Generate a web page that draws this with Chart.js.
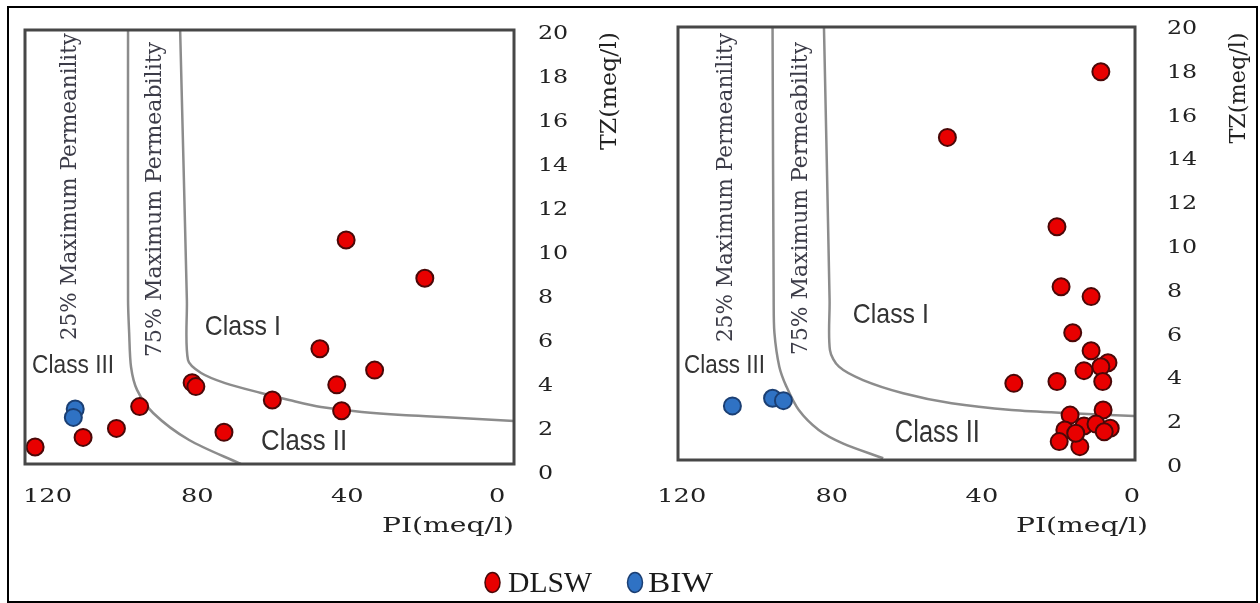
<!DOCTYPE html>
<html><head><meta charset="utf-8">
<script src="https://cdn.jsdelivr.net/npm/chart.js@4.4.1/dist/chart.umd.min.js"></script>
<style>
html,body{margin:0;padding:0;background:#fff;}
#wrap{position:relative;width:1260px;height:603px;overflow:hidden;background:#fff;}
.layer{position:absolute;left:0;top:0;width:1260px;height:603px;}
</style></head><body>
<div id="wrap">
<div class="layer"><canvas id="leftChart"></canvas></div>
<div class="layer"><canvas id="rightChart"></canvas></div>
</div>
<script>
// ---------- data ----------
const seriesNames = ['DLSW', 'BIW'];
const piTicks = [120, 80, 40, 0];
const tzTicks = [0, 2, 4, 6, 8, 10, 12, 14, 16, 18, 20];
const axisTitles = ['PI(meq/l)', 'TZ(meq/l)'];
const curveNames = ['25% Maximum Permeanility', '75% Maximum Permeability'];
const classNames = ['Class I', 'Class II', 'Class III'];

// left panel
const leftDlswPI = [123.3, 110.5, 101.6, 95.4, 81.4, 80.4, 72.9, 60.0, 47.3, 42.8, 41.5, 32.7, 40.3, 19.3];
const leftDlswTZ = [1.13, 1.57, 1.98, 2.97, 4.06, 3.88, 1.80, 3.27, 5.60, 3.96, 2.78, 4.63, 10.55, 8.81];
const leftBiwPI = [112.6, 113.1];
const leftBiwTZ = [2.86, 2.48];
const leftC25PI = [98.5, 98.5, 98.2, 97.7, 96.1, 91.8, 82.2, 68.4];
const leftC25TZ = [20.1, 7.82, 6.32, 4.77, 3.73, 2.68, 1.45, 0.36];
const leftC75PI = [84.6, 82.8, 82.5, 79.0, 72.6, 63.0, 55.5, 47.0, 36.1, 25.4, 14.7, -4.5];
const leftC75TZ = [20.1, 7.82, 5.09, 4.50, 4.04, 3.59, 3.27, 2.95, 2.73, 2.59, 2.50, 2.32];

// right panel
const rightDlswPI = [8.3, 49.2, 20.0, 18.9, 10.9, 15.8, 10.9, 6.4, 8.3, 12.8, 7.8, 31.5, 20.0,
                     16.5, 7.7, 17.9, 12.8, 9.6, 5.8, 7.4, 19.4, 13.9, 15.0];
const rightDlswTZ = [17.96, 14.96, 10.88, 8.14, 7.69, 6.04, 5.22, 4.67, 4.49, 4.31, 3.81, 3.73, 3.81,
                     2.28, 2.51, 1.60, 1.78, 1.87, 1.68, 1.52, 1.07, 0.84, 1.45];
const rightBiwPI = [106.5, 95.8, 92.9];
const rightBiwTZ = [2.70, 3.05, 2.94];
const rightC25PI = [95.8, 95.5, 95.3, 94.0, 92.1, 88.8, 83.5, 77.1, 66.3];
const rightC25TZ = [20.0, 7.54, 6.03, 4.49, 3.58, 2.51, 1.60, 0.99, 0.31];
const rightC75PI = [82.1, 80.6, 80.5, 78.1, 71.7, 61.0, 48.1, 32.1, 16.0, -0.6];
const rightC75TZ = [20.0, 7.54, 5.25, 4.49, 3.88, 3.28, 2.82, 2.51, 2.36, 2.24];

// ---------- helpers ----------
function pts(xs, ys) { return xs.map((x, i) => ({ x: x, y: ys[i] })); }

function drawText(ctx, text, x, y, o) {
  ctx.save();
  ctx.font = o.font;
  ctx.fillStyle = o.color || '#222';
  ctx.textBaseline = o.baseline || 'alphabetic';
  ctx.textAlign = o.align || 'left';
  let sx = o.sx || 1;
  if (o.width) sx = o.width / ctx.measureText(text).width;
  ctx.translate(x, y);
  if (o.rotate) ctx.rotate(o.rotate);
  ctx.scale(sx, 1);
  ctx.fillText(text, 0, 0);
  ctx.restore();
}

const SERIF = '"DejaVu Serif", "Liberation Serif", serif';
const SANS = '"Liberation Sans", Arial, sans-serif';

const decor = {
  id: 'decor',
  afterDraw(chart, args, opts) {
    const p = opts.panel;
    const ctx = chart.ctx;
    const a = chart.chartArea;
    const xs = chart.scales.x, ys = chart.scales.y;

    // plot frame
    ctx.save();
    ctx.strokeStyle = '#474747';
    ctx.lineWidth = 3;
    ctx.strokeRect(a.left, a.top, a.right - a.left, a.bottom - a.top);
    ctx.restore();

    // tick labels
    piTicks.forEach(v => drawText(ctx, String(v), xs.getPixelForValue(v), a.bottom + p.xTickBase,
      { font: '19px ' + SERIF, color: '#222', sx: 1.35, align: 'center' }));
    tzTicks.forEach(v => drawText(ctx, String(v), a.right + p.yTickGap, ys.getPixelForValue(v) + 7,
      { font: '19px ' + SERIF, color: '#222', sx: 1.25, align: 'left' }));

    // axis titles
    drawText(ctx, axisTitles[0], a.right + p.piTitle.dx, a.bottom + p.piTitle.dy,
      { font: '20px ' + SERIF, color: '#222', width: 132, align: 'right' });
    drawText(ctx, axisTitles[1], a.right + p.tzTitle.dx, p.tzTitle.cy,
      { font: '23px ' + SERIF, color: '#222', width: p.tzTitle.len, align: 'center', baseline: 'middle', rotate: -Math.PI / 2 });

    // permeability labels
    curveNames.forEach((t, i) => {
      const q = p.permPos[i];
      drawText(ctx, t, xs.getPixelForValue(q[0]), ys.getPixelForValue(q[1]),
        { font: '23px ' + SERIF, color: '#3c3c48', width: q[2], align: 'center', baseline: 'middle', rotate: -Math.PI / 2 });
    });

    // class labels
    classNames.forEach((t, i) => {
      const q = p.classPos[i];
      drawText(ctx, t, xs.getPixelForValue(q[0]), ys.getPixelForValue(q[1]),
        { font: q[3] + 'px ' + SANS, color: '#333', width: q[2], align: 'left' });
    });

    if (p.legend) {
      // outer border
      ctx.save();
      ctx.strokeStyle = '#000';
      ctx.lineWidth = 2;
      ctx.strokeRect(8, 7, 1249, 595);
      ctx.restore();
      // legend
      const items = [{ cx: 492.5, tx: 508, w: 84 }, { cx: 635, tx: 648, w: 65 }];
      chart.data.datasets.slice(0, 2).forEach((ds, i) => {
        const it = items[i];
        ctx.save();
        ctx.beginPath();
        ctx.ellipse(it.cx, 582.5, 7.5, 10, 0, 0, Math.PI * 2);
        ctx.fillStyle = ds.backgroundColor;
        ctx.fill();
        ctx.lineWidth = 1.5;
        ctx.strokeStyle = ds.borderColor;
        ctx.stroke();
        ctx.restore();
        drawText(ctx, ds.label, it.tx, 592, { font: '29px "Liberation Serif", "Times New Roman", serif', color: '#1a1a1a', width: it.w });
      });
    }
  }
};

function makeChart(canvasId, p) {
  const pointDs = (label, xsArr, ysArr, bg, bd) => ({
    label: label, data: pts(xsArr, ysArr), backgroundColor: bg, borderColor: bd,
    borderWidth: 2, pointRadius: 8.5, pointHoverRadius: 8.5, showLine: false
  });
  const curveDs = (label, xsArr, ysArr) => ({
    type: 'line', label: label, data: pts(xsArr, ysArr), showLine: true, fill: false,
    borderColor: '#8c8c8c', borderWidth: 2.5, pointRadius: 0, tension: 0.3
  });
  return new Chart(document.getElementById(canvasId), {
    type: 'scatter',
    data: {
      datasets: [
        pointDs(seriesNames[0], p.dlsw[0], p.dlsw[1], '#e80000', '#4a0808'),
        pointDs(seriesNames[1], p.biw[0], p.biw[1], '#2f72c4', '#1b3f73'),
        curveDs(curveNames[0], p.c25[0], p.c25[1]),
        curveDs(curveNames[1], p.c75[0], p.c75[1])
      ]
    },
    options: {
      responsive: true,
      maintainAspectRatio: false,
      animation: false,
      events: [],
      layout: { padding: p.padding },
      plugins: { legend: { display: false }, tooltip: { enabled: false }, decor: { panel: p } },
      scales: {
        x: {
          type: 'linear', display: false, reverse: true, min: p.piRange[0], max: p.piRange[1],
          afterBuildTicks: s => { s.ticks = piTicks.map(v => ({ value: v })); }
        },
        y: {
          type: 'linear', display: false, position: 'right', min: p.tzRange[0], max: p.tzRange[1],
          afterBuildTicks: s => { s.ticks = tzTicks.map(v => ({ value: v })); }
        }
      }
    },
    plugins: [decor]
  });
}

makeChart('leftChart', {
  dlsw: [leftDlswPI, leftDlswTZ], biw: [leftBiwPI, leftBiwTZ],
  c25: [leftC25PI, leftC25TZ], c75: [leftC75PI, leftC75TZ],
  padding: { left: 25, top: 30, right: 1260 - 514, bottom: 603 - 464 },
  piRange: [-4.5, 126], tzRange: [0.36, 20.1],
  xTickBase: 38, yTickGap: 24,
  piTitle: { dx: 0, dy: 68 }, tzTitle: { dx: 96, cy: 91, len: 118 },
  permPos: [[114.0, 12.98, 307], [91.3, 12.39, 315]],
  classPos: [[78.0, 6.23, 76, 28], [63.0, 1.00, 86, 30], [124.1, 4.50, 82, 25]],
  legend: true
});

makeChart('rightChart', {
  dlsw: [rightDlswPI, rightDlswTZ], biw: [rightBiwPI, rightBiwTZ],
  c25: [rightC25PI, rightC25TZ], c75: [rightC75PI, rightC75TZ],
  padding: { left: 678, top: 27, right: 1260 - 1135, bottom: 603 - 460 },
  piRange: [-0.8, 121], tzRange: [0.23, 20.0],
  xTickBase: 42, yTickGap: 32,
  piTitle: { dx: 13, dy: 72 }, tzTitle: { dx: 104, cy: 88, len: 111 },
  permPos: [[108.2, 12.67, 309], [88.2, 12.17, 313]],
  classPos: [[74.4, 6.49, 76, 28], [63.2, 1.05, 85, 31], [119.4, 4.20, 81, 25]],
  legend: false
});
</script>
</body></html>
